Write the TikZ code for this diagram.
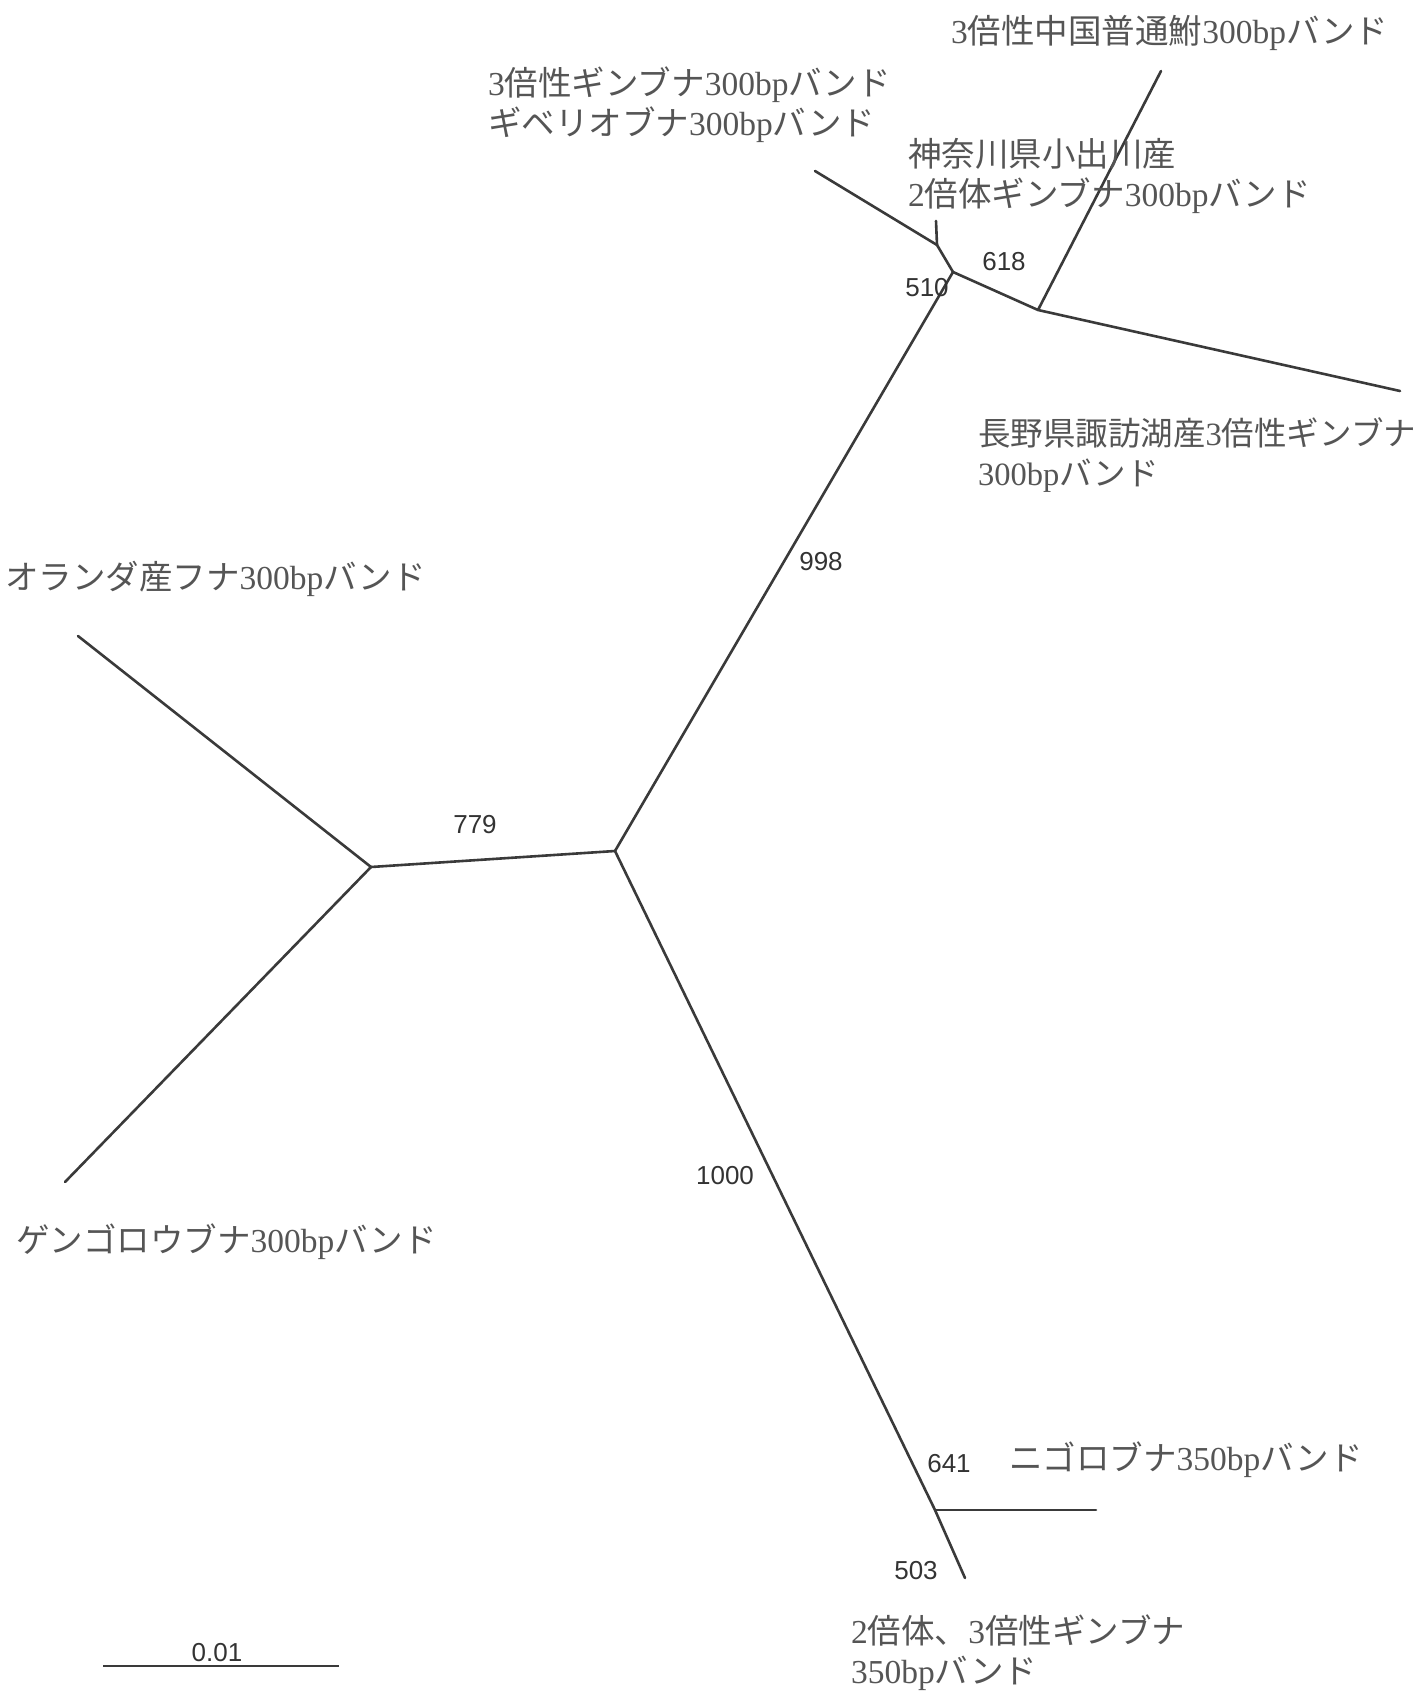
\documentclass[tikz,border=0pt]{standalone}
\usepackage{fontspec}
\setmainfont{Liberation Serif}
\newfontfamily\cjk{Noto Sans CJK JP}
\newfontfamily\numfont{Liberation Sans}
\newcommand{\jp}[1]{{\cjk #1}}
\definecolor{linec}{HTML}{3A3A3A}
\definecolor{textc}{HTML}{555555}
\definecolor{numc}{HTML}{333333}
\tikzset{
  branch/.style={draw=linec, line width=2.6pt, line cap=round, line join=round},
  taxon/.style={text=textc, inner sep=0pt, anchor=west, align=left,
    font=\fontsize{33.5}{40}\selectfont},
  boot/.style={text=numc, inner sep=0pt, font=\numfont\fontsize{26}{30}\selectfont},
}
\begin{document}
\begin{tikzpicture}[x=1pt,y=-1pt]
\useasboundingbox (0,0) rectangle (1425,1704);
% internal nodes
\coordinate (C) at (615,851);
\coordinate (L) at (371,867);
\coordinate (A) at (953,272);
\coordinate (B) at (937,245);
\coordinate (D) at (1038,310);
\coordinate (E) at (935,1510);
% tips
\coordinate (tOr) at (78,636);
\coordinate (tGe) at (65,1182);
\coordinate (tTL) at (815,171);
\coordinate (tKa) at (936,221);
\coordinate (tCh) at (1161,71);
\coordinate (tSu) at (1400,391);
\coordinate (tNi) at (1096,1510);
\coordinate (tGi) at (965,1578);
% branches
\draw[branch] (tOr) -- (L) -- (tGe);
\draw[branch] (L) -- (C);
\draw[branch] (C) -- (A);
\draw[branch] (A) -- (B) -- (tTL);
\draw[branch] (B) -- (tKa);
\draw[branch] (A) -- (D) -- (tCh);
\draw[branch] (D) -- (tSu);
\draw[branch] (C) -- (E) -- (tGi);
\draw[branch] (E) -- (tNi);
% scale bar
\coordinate (s1) at (103,1666);
\coordinate (s2) at (339,1666);
\draw[branch, line cap=butt] (s1) -- (s2);
\node[boot] (sc) at (217,1653) {0.01};
% bootstrap values
\node[boot] (b618) at (1004,262) {618};
\node[boot] (b510) at (927,288) {510};
\node[boot] (b998) at (821,562) {998};
\node[boot] (b779) at (475,825) {779};
\node[boot] (b1000) at (725,1176) {1000};
\node[boot] (b641) at (949,1464) {641};
\node[boot] (b503) at (916,1571) {503};
% taxon labels
\node[taxon] (lCh) at (951,33) {3\jp{倍性中国普通鮒}300bp\jp{バンド}};
\node[taxon] (lTL) at (488,105) {3\jp{倍性ギンブナ}300bp\jp{バンド}\\\jp{ギベリオブナ}300bp\jp{バンド}};
\node[taxon] (lKa) at (908,176) {\jp{神奈川県小出川産}\\2\jp{倍体ギンブナ}300bp\jp{バンド}};
\node[taxon, font=\fontsize{32.5}{40}\selectfont] (lSu) at (978,455) {\jp{長野県諏訪湖産}3\jp{倍性ギンブナ}\\300bp\jp{バンド}};
\node[taxon] (lOr) at (5,579) {\jp{オランダ産フナ}300bp\jp{バンド}};
\node[taxon] (lGe) at (16,1242) {\jp{ゲンゴロウブナ}300bp\jp{バンド}};
\node[taxon] (lNi) at (1009,1460) {\jp{ニゴロブナ}350bp\jp{バンド}};
\node[taxon] (lGi) at (851,1653) {2\jp{倍体、}3\jp{倍性ギンブナ}\\350bp\jp{バンド}};
\end{tikzpicture}
\end{document}
